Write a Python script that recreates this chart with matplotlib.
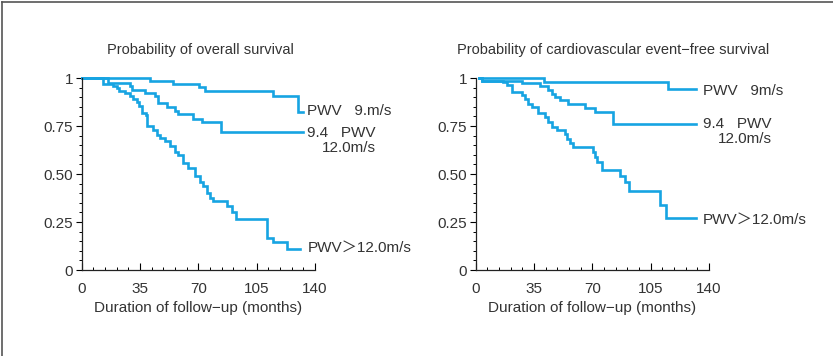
import matplotlib
matplotlib.use("Agg")
import matplotlib.pyplot as plt
from matplotlib.lines import Line2D
from matplotlib.ticker import MultipleLocator

plt.rcParams['font.family'] = ['Liberation Sans Narrow', 'Liberation Sans', 'Noto Sans CJK KR', 'DejaVu Sans']

# overall survival (left)
os_low_t = [0, 41, 54.6, 70.6, 74, 115, 130, 133]
os_low_s = [1.0, 0.986, 0.969, 0.951, 0.930, 0.904, 0.823, 0.823]
os_mid_t = [0, 16, 29, 30, 38, 44, 46, 51, 56, 58, 67, 72, 83.6, 133]
os_mid_s = [1.0, 0.975, 0.96, 0.935, 0.92, 0.905, 0.87, 0.85, 0.826, 0.81, 0.785, 0.77, 0.718, 0.718]
os_high_t = [0, 13, 19, 21, 22.6, 26, 29, 31, 33, 34.6, 36, 38.6, 39.4, 43, 45, 47, 50, 53,
             56, 58, 61, 64, 68, 71, 73, 75, 77, 78.6, 87, 90, 92.4, 111.4, 115, 123, 131]
os_high_s = [1.0, 0.97, 0.957, 0.948, 0.934, 0.92, 0.908, 0.89, 0.873, 0.852, 0.82, 0.809, 0.75,
             0.73, 0.704, 0.687, 0.67, 0.647, 0.617, 0.6, 0.557, 0.53, 0.487, 0.46, 0.438, 0.403,
             0.374, 0.357, 0.334, 0.3, 0.264, 0.169, 0.148, 0.108, 0.108]

# cardiovascular event-free survival (right)
cv_low_t = [2, 41, 115.6, 132]
cv_low_s = [1.0, 0.977, 0.941, 0.941]
cv_mid_t = [2, 4, 27.6, 38.6, 43.6, 45.6, 47.6, 50.6, 55.6, 65.6, 71.6, 82.6, 132]
cv_mid_s = [1.0, 0.985, 0.974, 0.957, 0.939, 0.917, 0.9, 0.885, 0.864, 0.842, 0.821, 0.76, 0.76]
cv_high_t = [2, 4, 16.6, 19, 21.6, 27.6, 29.6, 31.6, 33.6, 37.6, 41.6, 43.6, 45.6, 48.6, 53.6,
             54.6, 56.6, 58.6, 70.6, 71.6, 72.6, 75.6, 86.6, 89.6, 92.2, 110.6, 114.2, 132]
cv_high_s = [1.0, 0.985, 0.977, 0.963, 0.929, 0.913, 0.89, 0.864, 0.847, 0.82, 0.795, 0.772,
             0.743, 0.729, 0.708, 0.682, 0.661, 0.643, 0.612, 0.586, 0.56, 0.52, 0.487, 0.459,
             0.412, 0.337, 0.273, 0.273]

xticks = [0, 35, 70, 105, 140]
yticks = [0, 0.25, 0.5, 0.75, 1]
ylabels = ['0', '0.25', '0.50', '0.75', '1']

blue = '#17a4e2'
txt = '#333333'
fs = 11

fig = plt.figure(figsize=(8.33, 3.56), dpi=100)
W, H = 833, 356

def px(x, y, w, h):
    return [x / W, (H - y - h) / H, w / W, h / H]

panels = [
    (px(81.7, 78, 233.3, 192), 'Probability of overall survival', 200,
     [(os_low_t, os_low_s), (os_mid_t, os_mid_s), (os_high_t, os_high_s)],
     [(307, 111, 'PWV   9.m/s'), (307, 133, '9.4   PWV'), (322, 148, '12.0m/s'),
      (308, 248, 'PWV＞12.0m/s')]),
    (px(475.7, 78, 233.3, 192), 'Probability of cardiovascular event−free survival', 613,
     [(cv_low_t, cv_low_s), (cv_mid_t, cv_mid_s), (cv_high_t, cv_high_s)],
     [(703, 91, 'PWV   9m/s'), (703, 124, '9.4   PWV'), (718, 139, '12.0m/s'),
      (703, 220, 'PWV＞12.0m/s')]),
]

for rect, title, tx, curves, labels in panels:
    ax = fig.add_axes(rect)
    for t, s in curves:
        ax.step(t, s, where='post', color=blue, lw=1.9, clip_on=False,
                solid_joinstyle='miter')
    ax.set_xlim(0, 140)
    ax.set_ylim(0, 1)
    for sp in ['top', 'right']:
        ax.spines[sp].set_visible(False)
    for sp in ['left', 'bottom']:
        ax.spines[sp].set_color('#222222')
        ax.spines[sp].set_linewidth(0.9)
    ax.set_xticks(xticks)
    ax.set_yticks(yticks)
    ax.set_yticklabels(ylabels)
    ax.xaxis.set_minor_locator(MultipleLocator(7))
    ax.yaxis.set_minor_locator(MultipleLocator(0.05))
    ax.tick_params(axis='x', which='major', direction='in', length=5, width=0.8,
                   labelsize=fs, labelcolor=txt, pad=8.5)
    ax.tick_params(axis='x', which='minor', direction='in', length=2.5, width=0.7)
    ax.tick_params(axis='y', which='major', direction='out', length=4, width=0.8,
                   labelsize=fs, labelcolor=txt, pad=2)
    ax.tick_params(axis='y', which='minor', direction='out', length=2, width=0.7)
    ax.set_xlabel('Duration of follow−up (months)', fontsize=fs, color=txt, labelpad=4)
    fig.text(tx / W, 1 - 50 / H, title, ha='center', va='center', fontsize=fs - 0.5, color=txt)
    for lx, ly, s in labels:
        fig.text(lx / W, 1 - ly / H, s, ha='left', va='center', fontsize=fs, color=txt)

# figure frame (left and top edges)
fig.add_artist(Line2D([2 / W, 2 / W], [0, 1 - 2 / H], color='#555555', lw=1.2))
fig.add_artist(Line2D([2 / W, 1], [1 - 2 / H, 1 - 2 / H], color='#555555', lw=1.2))

fig.savefig('out.png', dpi=100)
